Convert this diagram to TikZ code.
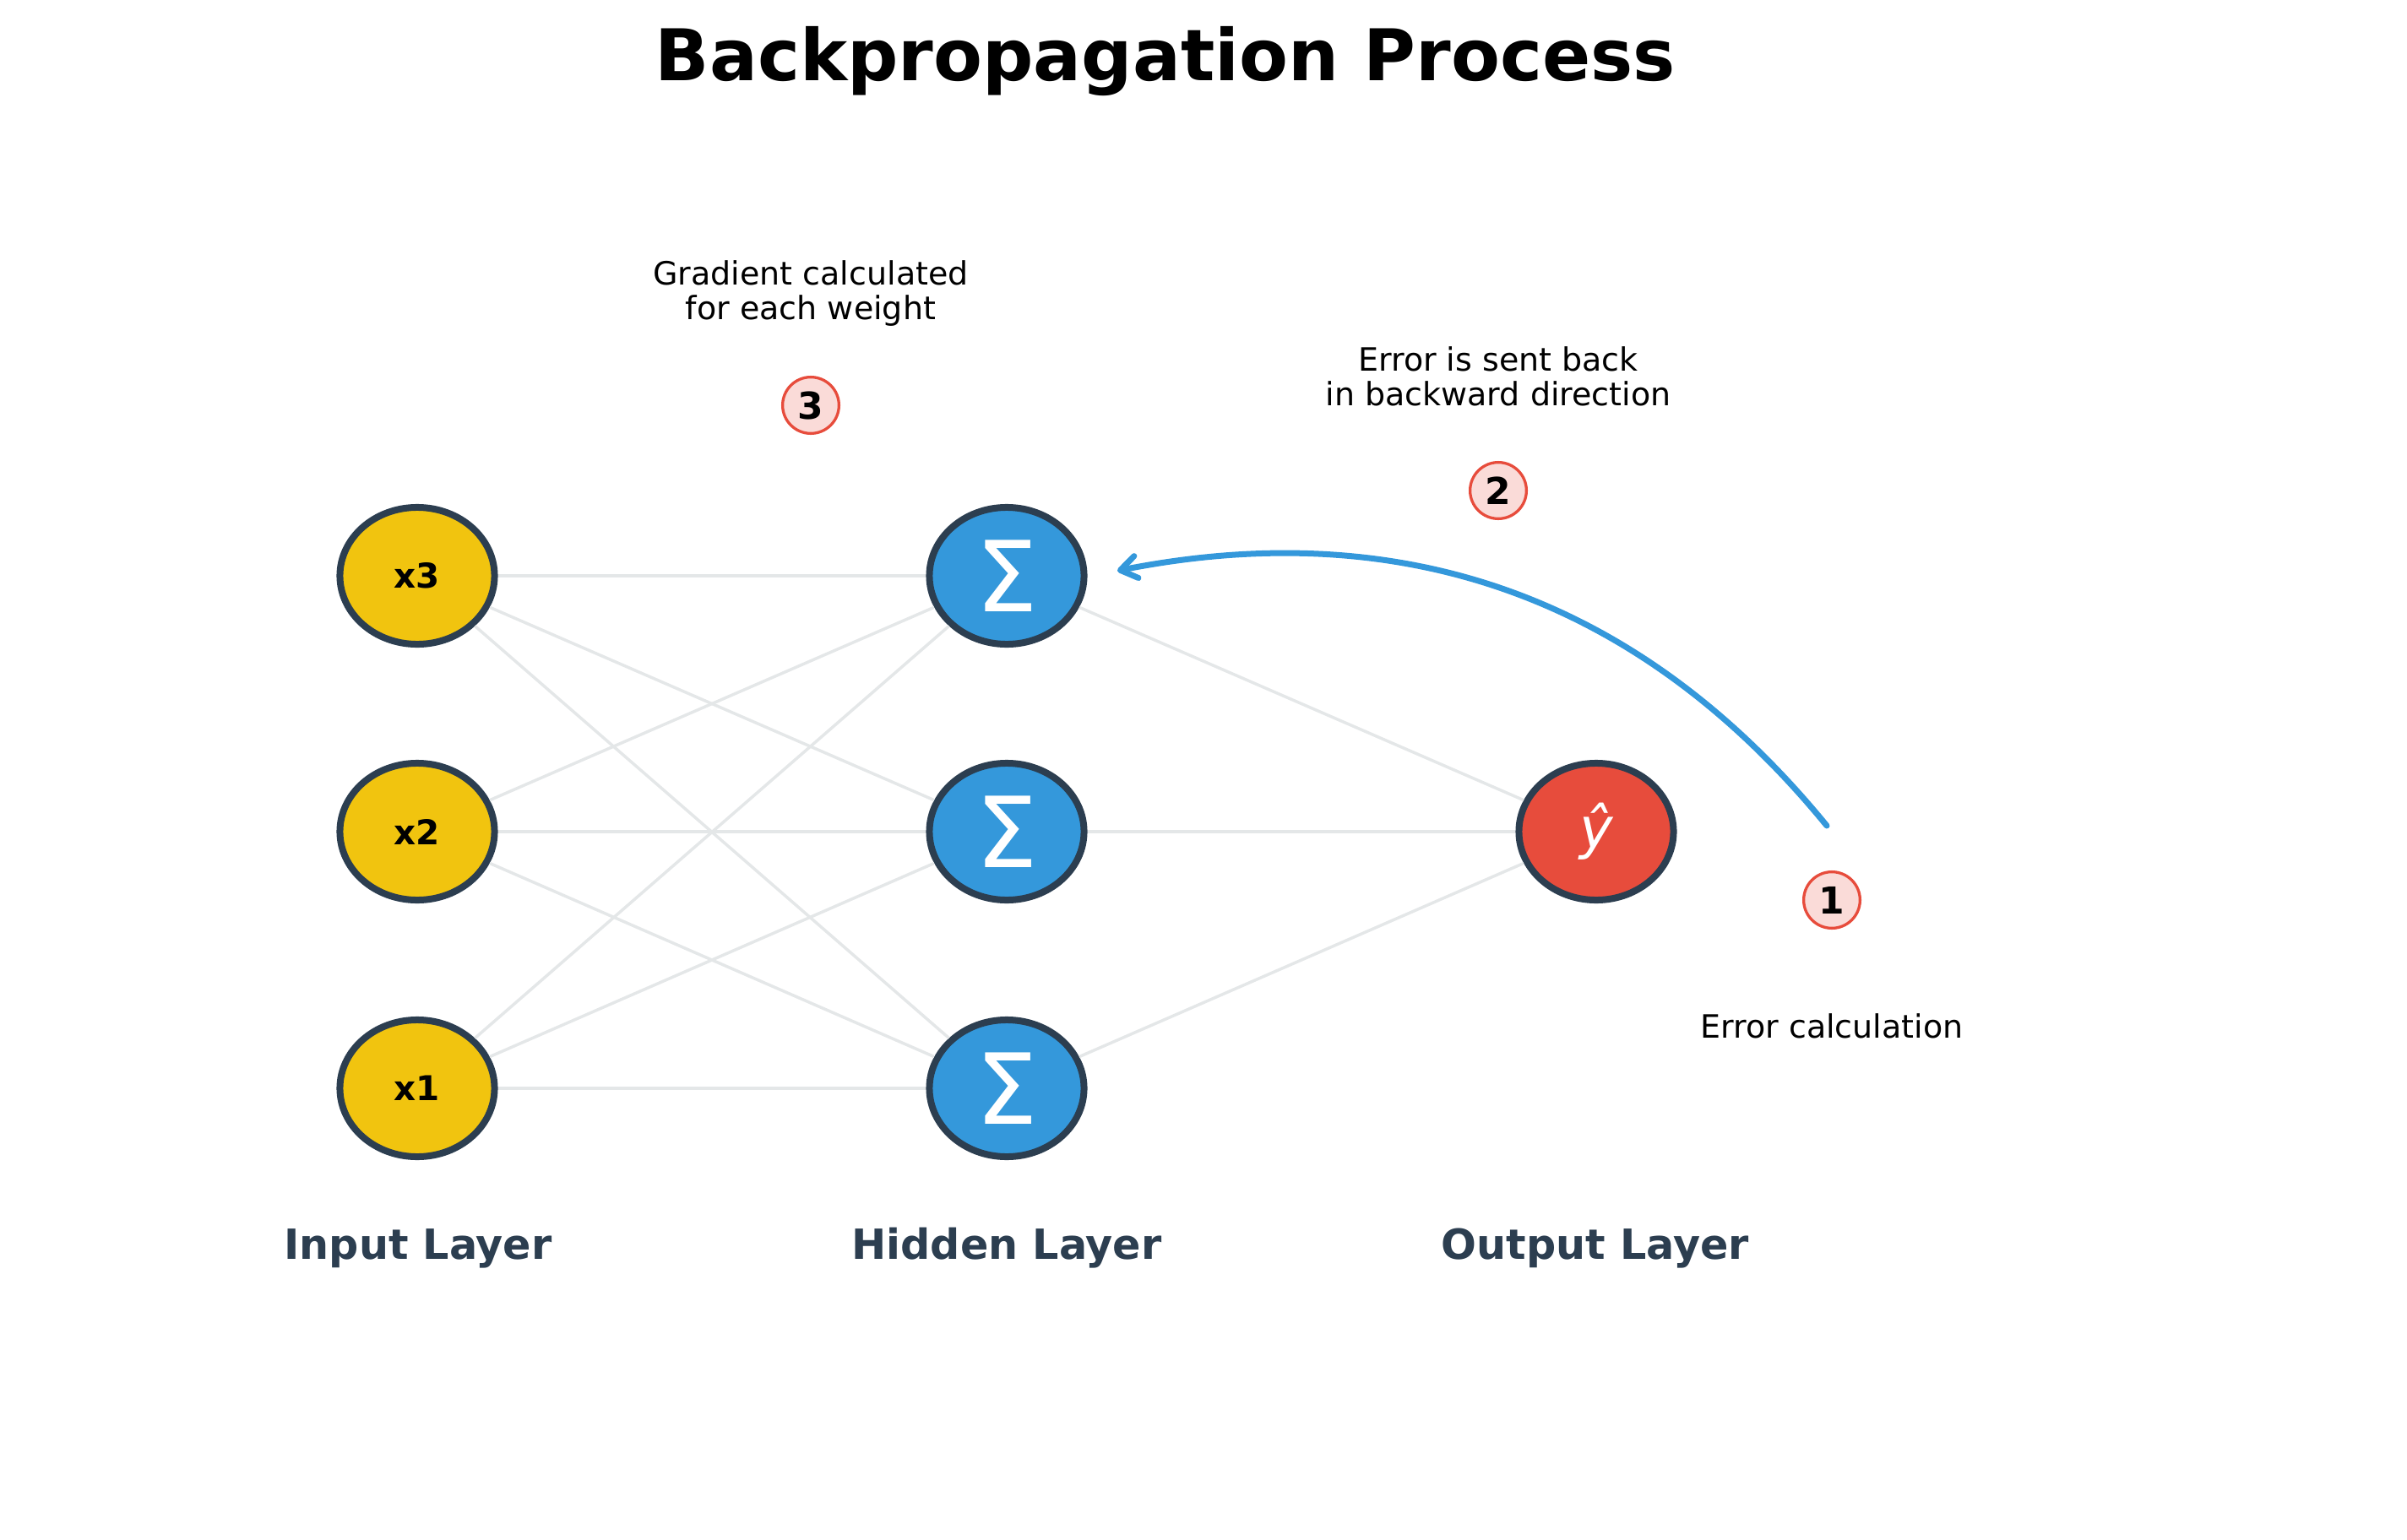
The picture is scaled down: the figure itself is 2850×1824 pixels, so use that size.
\documentclass[tikz,border=0pt]{standalone}
\usepackage{fontspec}
\setmainfont{DejaVu Sans}
\usetikzlibrary{shapes.geometric,arrows.meta}
\definecolor{inyellow}{HTML}{F1C40F}
\definecolor{hidblue}{HTML}{3498DB}
\definecolor{outred}{HTML}{E74C3C}
\definecolor{darkblue}{HTML}{2C3E50}
\definecolor{badgefill}{HTML}{FADBD8}
\definecolor{edgegray}{HTML}{E4E7E8}
\begin{document}
\begin{tikzpicture}[x=0.01cm,y=-0.01cm,
 neuron/.style={ellipse, draw=darkblue, line width=0.08cm, minimum width=1.83cm, minimum height=1.62cm, inner sep=0pt},
 innode/.style={neuron, fill=inyellow, font=\bfseries\fontsize{11.5}{13}\selectfont},
 hidnode/.style={neuron, fill=hidblue, text=white, font=\fontsize{33}{36}\selectfont},
 outnode/.style={neuron, fill=outred, text=white, font=\itshape\fontsize{19}{21}\selectfont},
 conn/.style={draw=edgegray, line width=0.035cm},
 badge/.style={circle, draw=outred, fill=badgefill, line width=0.033cm, minimum size=0.667cm, inner sep=0pt, font=\bfseries\fontsize{12.5}{14}\selectfont},
 note/.style={align=center, inner sep=0pt, font=\fontsize{10.8}{11.6}\selectfont},
 layerlabel/.style={anchor=base, inner sep=0pt, text=darkblue, font=\bfseries\fontsize{14}{16}\selectfont},
 backarrow/.style={draw=hidblue, line width=0.07cm, line cap=round, -{Straight Barb[length=5.5pt,width=7.5pt,round]}}
]
\useasboundingbox (0,0) rectangle (2850,1824);

% title
\node[anchor=base, inner sep=0pt, font=\bfseries\fontsize{24}{28}\selectfont] (title) at (1380,95) {Backpropagation Process};

% neurons
\node[innode] (x3) at (494,682) {x3};
\node[innode] (x2) at (494,985) {x2};
\node[innode] (x1) at (494,1289) {x1};
\node[hidnode] (h3) at (1192,682) {Σ};
\node[hidnode] (h2) at (1192,985) {Σ};
\node[hidnode] (h1) at (1192,1289) {Σ};
\node[outnode] (yh) at (1890,985) {ŷ};

% connections
\foreach \i in {x1,x2,x3} {
  \foreach \j in {h1,h2,h3} {
    \draw[conn] (\i) -- (\j);
  }
}
\foreach \j in {h1,h2,h3} {
  \draw[conn] (\j) -- (yh);
}

% layer labels
\node[layerlabel] (linput) at (495,1491) {Input Layer};
\node[layerlabel] (lhidden) at (1192,1491) {Hidden Layer};
\node[layerlabel] (loutput) at (1889,1491) {Output Layer};

% badges
\node[badge] (b1) at (2169,1066) {1};
\node[badge] (b2) at (1774,581) {2};
\node[badge] (b3) at (960,480) {3};

% notes
\node[note, anchor=south, text depth=0pt] (n3) at (960,379) {Gradient calculated\\for each weight};
\node[note, anchor=south, text depth=0pt] (n2) at (1774,481) {Error is sent back\\in backward direction};
\node[note, anchor=base] (n1) at (2169,1229) {Error calculation};

% backward arrow
\coordinate (arrS) at (2163,978);
\coordinate (arrE) at (1323,676);
\draw[backarrow] (arrS) .. controls (1943.4,709.3) and (1663.4,608.7) .. (arrE);
\end{tikzpicture}
\end{document}
